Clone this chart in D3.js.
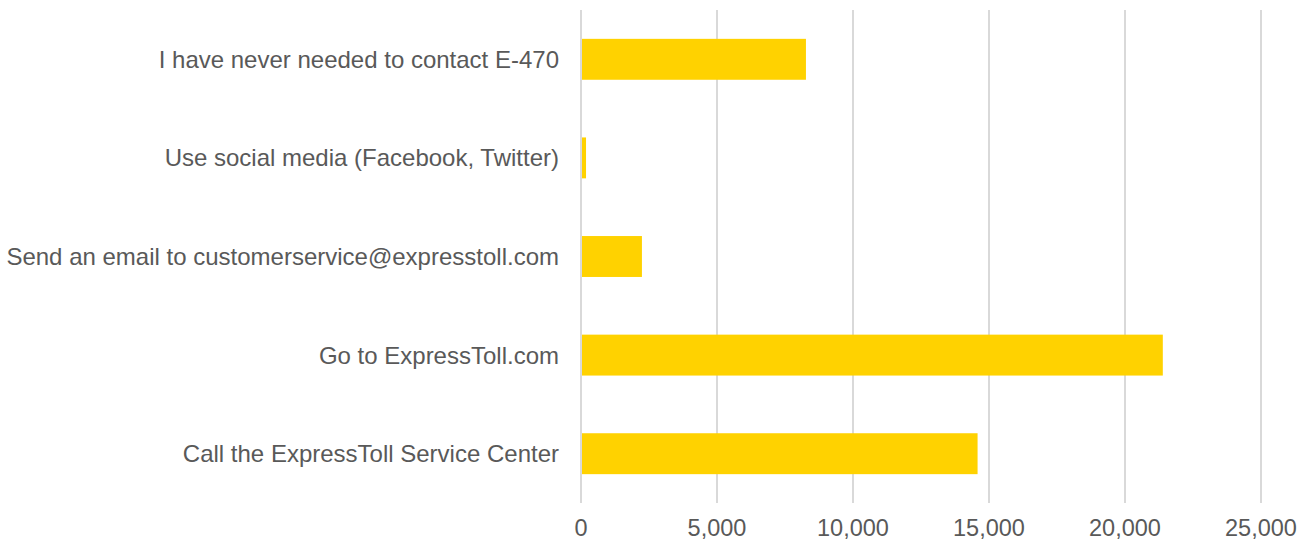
<!DOCTYPE html>
<html><head><meta charset="utf-8">
<script src="https://cdn.jsdelivr.net/npm/d3@7"></script>
<style>body{margin:0;background:#fff;} text{font-family:"Liberation Sans",Arial,sans-serif;fill:#595959;}</style>
</head><body>
<svg id="c" width="1308" height="545"></svg>
<script>
const categories = ["I have never needed to contact E-470","Use social media (Facebook, Twitter)","Send an email to customerservice@expresstoll.com","Go to ExpressToll.com","Call the ExpressToll Service Center"];
const values = [8270, 185, 2240, 21390, 14580];
const tickValues = [0, 5000, 10000, 15000, 20000, 25000];

const svg = d3.select("#c");
const m = {left:581, right:1261, top:10, bottom:503};
const x = d3.scaleLinear().domain([0,25000]).range([m.left, m.right]);
const y = d3.scaleBand().domain(categories).range([m.top, m.bottom]).paddingInner(0.585).paddingOuter(0.2925);

svg.append("g").selectAll("line").data(tickValues).join("line")
  .attr("x1", d=>x(d)).attr("x2", d=>x(d)).attr("y1", m.top).attr("y2", m.bottom)
  .attr("stroke", "#d9d9d9").attr("stroke-width", 2);

svg.append("g").selectAll("rect").data(categories).join("rect")
  .attr("x", x(0)+1).attr("y", d=>y(d))
  .attr("width", (d,i)=>x(values[i])-x(0)-1).attr("height", y.bandwidth())
  .attr("fill", "#ffd200");

svg.append("g").selectAll("text").data(tickValues).join("text")
  .attr("x", d=>x(d)).attr("y", 528).attr("dy","0.35em").attr("text-anchor","middle")
  .style("font-size","23.5px").text(d=>d3.format(",")(d));

svg.append("g").selectAll("text").data(categories).join("text")
  .attr("x", 559).attr("y", d=>y(d)+y.bandwidth()/2).attr("dy","0.35em").attr("text-anchor","end")
  .style("font-size","24px").text(d=>d);
</script>
</body></html>
